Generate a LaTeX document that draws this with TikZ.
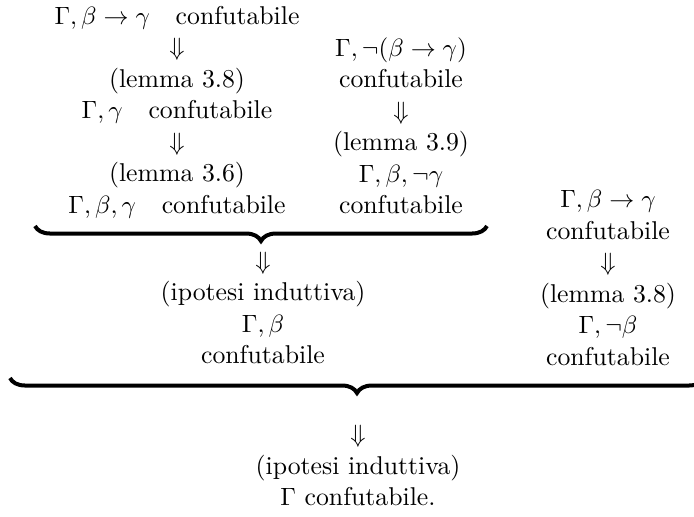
\documentclass[tikz,border=0pt]{standalone}
\usetikzlibrary{decorations.pathreplacing}
\tikzset{
	col/.style={align=center,inner sep=0pt,font=\fontsize{10.3}{12.6}\selectfont},
	ubrace/.style={decorate,decoration={brace,mirror,amplitude=6pt},line width=1.6pt},
}

\begin{document}
\begin{tikzpicture}[x=0.4pt,y=-0.4pt]
	\useasboundingbox (0,0) rectangle (694,516);
	
	\node[col] (left) at (177,112.5) {%
		\strut$\Gamma,\beta\rightarrow\gamma$\quad confutabile\\
		$\Downarrow$\\
		(lemma 3.8)\\
		$\Gamma,\gamma$\quad confutabile\\
		$\Downarrow$\\
		(lemma 3.6)\\
		$\Gamma,\beta,\gamma$\quad confutabile\strut
	};
	\node[col] (neg) at (401,128.5) {%
		\strut$\Gamma,\neg(\beta\rightarrow\gamma)$\\
		confutabile\\
		$\Downarrow$\\
		(lemma 3.9)\\
		$\Gamma,\beta,\neg\gamma$\\
		confutabile\strut
	};
	\node[col] (right) at (608,280) {%
		\strut$\Gamma,\beta\rightarrow\gamma$\\
		confutabile\\
		$\Downarrow$\\
		(lemma 3.8)\\
		$\Gamma,\neg\beta$\\
		confutabile\strut
	};
	
	\coordinate (topL) at (35,226);
	\coordinate (topR) at (487,226);
	\draw[ubrace] (topL) -- (topR);
	
	\node[col] (mid) at (263,310) {%
		\strut$\Downarrow$\\
		(ipotesi induttiva)\\
		$\Gamma,\beta$\\
		confutabile\strut
	};
	
	\coordinate (botL) at (10,378);
	\coordinate (botR) at (704,378);
	\draw[ubrace] (botL) -- (botR);
	
	\node[col] (concl) at (358,468) {%
		\strut$\Downarrow$\\
		(ipotesi induttiva)\\
		$\Gamma$ confutabile.\strut
	};
\end{tikzpicture}
\end{document}
